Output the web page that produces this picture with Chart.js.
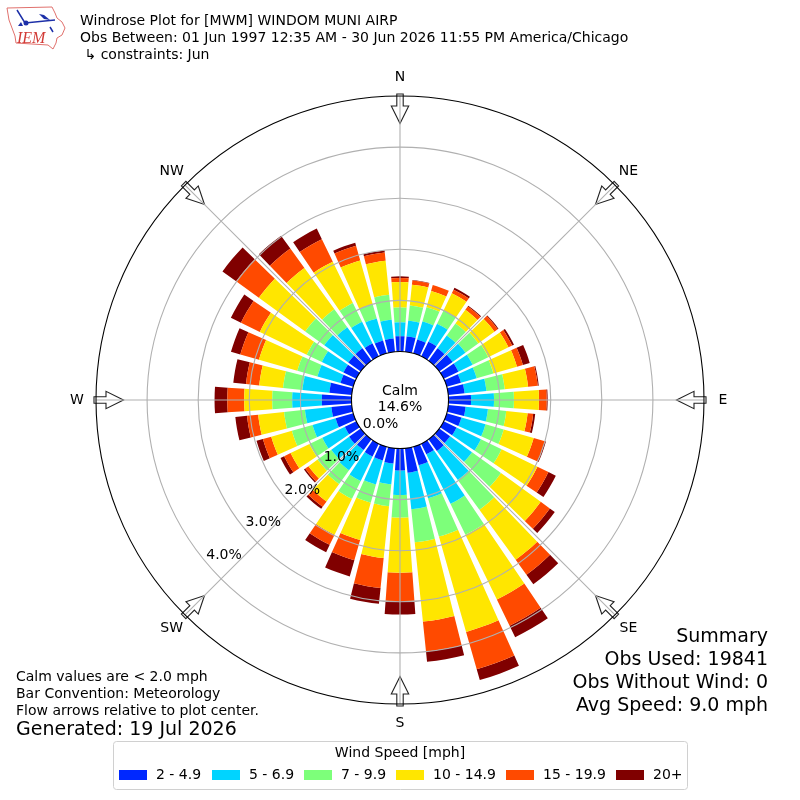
<!DOCTYPE html>
<html>
<head>
<meta charset="utf-8">
<title>Windrose Plot</title>
<style>
  html, body { margin: 0; padding: 0; background: #fff; }
  #wrap { width: 800px; height: 800px; }
</style>
<script src="https://cdn.jsdelivr.net/npm/chart.js@4/dist/chart.umd.min.js"></script>
</head>
<body>
<div id="wrap"><canvas id="rose" width="800" height="800"></canvas></div>
<script>
// direction bins, clockwise from north
const directions = ['0','10','20','30','40','50','60','70','80','90','100','110','120','130','140','150','160','170',
                    '180','190','200','210','220','230','240','250','260','270','280','290','300','310','320','330','340','350'];

// percent of observations per direction for each speed class
const mph2to5   = [.30,.30,.28,.32,.30,.32,.32,.29,.32,.44,.34,.30,.28,.26,.28,.23,.38,.48,.43,.30,.28,.28,.26,.28,.25,.36,.40,.58,.44,.26,.28,.30,.30,.28,.26,.26];
const mph5to7   = [.27,.31,.37,.39,.31,.31,.31,.32,.43,.45,.44,.49,.53,.53,.70,1.08,.67,.72,.48,.41,.49,.53,.49,.43,.49,.47,.52,.58,.53,.47,.47,.58,.51,.47,.45,.37];
const mph7to10  = [.29,.30,.29,.29,.29,.31,.34,.34,.36,.39,.36,.37,.45,.70,.72,.67,.78,.65,.44,.43,.37,.39,.33,.33,.28,.42,.41,.39,.38,.41,.33,.46,.43,.41,.29,.49];
const mph10to15 = [.50,.41,.33,.37,.33,.39,.44,.48,.46,.49,.42,.61,.78,.96,1.21,1.41,1.94,1.56,1.08,1.02,.76,.78,.42,.22,.41,.42,.51,.55,.47,.78,1.02,1.12,1.00,.90,.89,.67];
const mph15to20 = [.08,.08,.12,.08,.08,.08,.08,.12,.19,.15,.11,.23,.24,.22,.36,.57,.76,.59,.56,.59,.41,.22,.13,.08,.14,.17,.22,.33,.26,.38,.41,.55,.47,.49,.30,.16];
const mph20plus = [.03,.01,0,.04,.02,.02,.04,.14,.02,.02,.04,.02,.16,.12,.23,.25,.22,.20,.26,.31,.33,.16,.05,.03,.08,.13,.23,.25,.25,.19,.22,.33,.31,.23,.06,.04];

const speedBins = ['2 - 4.9', '5 - 6.9', '7 - 9.9', '10 - 14.9', '15 - 19.9', '20+'];
const speedColors = ['#0028ff', '#00d4ff', '#7dff7a', '#ffe600', '#ff4a00', '#800000'];
const binValues = [mph2to5, mph5to7, mph7to10, mph10to15, mph15to20, mph20plus];

const compass = [['N',0], ['NE',45], ['E',90], ['SE',135], ['S',180], ['SW',225], ['W',270], ['NW',315]];
const rTicks = [0, 1, 2, 3, 4];
const calmPct = '14.6%';

const titleLines = ['Windrose Plot for [MWM] WINDOM MUNI AIRP',
                    'Obs Between: 01 Jun 1997 12:35 AM - 30 Jun 2026 11:55 PM America/Chicago',
                    ' \u21b3 constraints: Jun'];
const noteLines = ['Calm values are < 2.0 mph', 'Bar Convention: Meteorology', 'Flow arrows relative to plot center.'];
const generated = 'Generated: 19 Jul 2026';
const summaryLines = ['Summary', 'Obs Used: 19841', 'Obs Without Wind: 0', 'Avg Speed: 9.0 mph'];

const FONT = '"DejaVu Sans"';
const BAR_WIDTH = 8.2 * Math.PI / 180;
const D2R = Math.PI / 180;

// stacked wedges: polarArea has no stacking so each arc starts where the previous class ended
class WindRoseController extends Chart.PolarAreaController {
  updateElements(arcs, start, count, mode) {
    const scale = this._cachedMeta.rScale;
    const sets = this.chart.data.datasets;
    for (let i = start; i < start + count; i++) {
      let below = 0;
      for (let d = 0; d < this.index; d++) below += sets[d].data[i];
      const mid = scale.getIndexAngle(i) - Math.PI / 2;
      this.updateElement(arcs[i], i, {
        x: scale.xCenter,
        y: scale.yCenter,
        startAngle: mid - BAR_WIDTH / 2,
        endAngle: mid + BAR_WIDTH / 2,
        circumference: BAR_WIDTH,
        innerRadius: scale.getDistanceFromCenterForValue(below),
        outerRadius: scale.getDistanceFromCenterForValue(below + sets[this.index].data[i]),
        options: this.resolveDataElementOptions(i, mode)
      }, mode);
    }
  }
}
WindRoseController.id = 'windRose';
Chart.register(WindRoseController);

function text(ctx, str, x, y, size, align, base) {
  ctx.font = size + 'px ' + FONT;
  ctx.textAlign = align || 'left';
  ctx.textBaseline = base || 'middle';
  ctx.fillStyle = '#000';
  ctx.fillText(str, x, y);
}

function drawLogo(ctx) {
  ctx.save();
  ctx.strokeStyle = '#e0706c';
  ctx.lineWidth = 1;
  ctx.beginPath();
  [[7,8],[52,7],[55,13],[57,18],[62,22],[65,28],[62,35],[57,38],[56,43],[53,49],[48,45],[16,43],[15,36],[12,28],[9,20]]
    .forEach((p, i) => i ? ctx.lineTo(p[0], p[1]) : ctx.moveTo(p[0], p[1]));
  ctx.closePath();
  ctx.stroke();
  ctx.strokeStyle = '#1c2fa8';
  ctx.fillStyle = '#1c2fa8';
  ctx.lineWidth = 1.5;
  ctx.beginPath();
  ctx.moveTo(17, 10); ctx.lineTo(25, 23); ctx.lineTo(55, 20);
  ctx.moveTo(50, 27); ctx.lineTo(53, 32);
  ctx.stroke();
  ctx.beginPath(); ctx.arc(26, 23, 2.5, 0, 7); ctx.fill();
  ctx.beginPath(); ctx.moveTo(39, 14); ctx.lineTo(44, 15); ctx.lineTo(50, 20); ctx.lineTo(44, 19); ctx.fill();
  ctx.beginPath(); ctx.moveTo(21, 22); ctx.lineTo(23, 26); ctx.lineTo(18, 26); ctx.fill();
  ctx.fillStyle = '#d23b36';
  ctx.font = 'italic 16px "Liberation Serif"';
  ctx.textAlign = 'left';
  ctx.textBaseline = 'alphabetic';
  ctx.fillText('IEM', 17, 43);
  ctx.restore();
}

function drawArrow(ctx, scale, angle) {
  // corners given as [radius, sideways offset] along the compass direction
  const a = angle * D2R - Math.PI / 2;
  const ux = Math.cos(a), uy = Math.sin(a);
  const pts = [[306,-3.2],[294,-3.2],[294,-8.7],[276.5,0],[294,8.7],[294,3.2],[306,3.2]];
  ctx.beginPath();
  pts.forEach((p, i) => {
    const x = scale.xCenter + ux * p[0] - uy * p[1];
    const y = scale.yCenter + uy * p[0] + ux * p[1];
    i ? ctx.lineTo(x, y) : ctx.moveTo(x, y);
  });
  ctx.closePath();
  ctx.fillStyle = '#fff';
  ctx.fill();
  ctx.strokeStyle = '#222';
  ctx.lineWidth = 1.1;
  ctx.stroke();
}

function drawLegend(ctx) {
  ctx.save();
  ctx.beginPath();
  ctx.roundRect(113.5, 741.5, 574, 48, 3);
  ctx.fillStyle = '#fff';
  ctx.fill();
  ctx.strokeStyle = '#d0d0d0';
  ctx.lineWidth = 1;
  ctx.stroke();
  ctx.restore();
  text(ctx, 'Wind Speed [mph]', 400, 753, 14, 'center');
  const swatchX = [119, 212, 304, 396, 506, 616];
  speedBins.forEach((lab, i) => {
    ctx.fillStyle = speedColors[i];
    ctx.fillRect(swatchX[i], 770, 28, 10);
    text(ctx, lab, swatchX[i] + 37, 775, 14);
  });
}

const overlay = {
  id: 'overlay',
  afterDatasetsDraw(chart) {
    const ctx = chart.ctx;
    const scale = chart.scales.r;
    ctx.save();
    // flow arrows first, the spokes run over them
    compass.forEach(c => drawArrow(ctx, scale, c[1]));
    ctx.strokeStyle = '#b0b0b0';
    ctx.lineWidth = 1.1;
    const r0 = scale.getDistanceFromCenterForValue(0);
    const r1 = scale.getDistanceFromCenterForValue(5);
    compass.forEach(c => {
      const p0 = scale.getPointPosition(0, r0, c[1] * D2R);
      const p1 = scale.getPointPosition(0, r1, c[1] * D2R);
      ctx.beginPath();
      ctx.moveTo(p0.x, p0.y);
      ctx.lineTo(p1.x, p1.y);
      ctx.stroke();
    });
    // compass names
    compass.forEach(c => {
      const p = scale.getPointPosition(0, 323, c[1] * D2R);
      text(ctx, c[0], p.x, p.y, 14, 'center');
    });
    // percent labels sit along the 230 degree radial
    rTicks.forEach(v => {
      const p = scale.getPointPosition(0, scale.getDistanceFromCenterForValue(v), 230 * D2R);
      text(ctx, v.toFixed(1) + '%', p.x, p.y, 14, 'left', 'bottom');
    });
    text(ctx, 'Calm', 400, 391, 14, 'center');
    text(ctx, calmPct, 400, 407, 14, 'center');

    titleLines.forEach((t, i) => text(ctx, t, 80, 21 + i * 17, 14));
    noteLines.forEach((t, i) => text(ctx, t, 16, 677 + i * 17, 14));
    text(ctx, generated, 16, 730.5, 19);
    summaryLines.forEach((t, i) => text(ctx, t, 768, 637.5 + i * 23, 19, 'right'));
    drawLegend(ctx);
    drawLogo(ctx);
    ctx.restore();
  }
};

new Chart(document.getElementById('rose').getContext('2d'), {
  type: 'windRose',
  data: {
    labels: directions,
    datasets: binValues.map((vals, i) => ({
      label: speedBins[i],
      data: vals,
      backgroundColor: speedColors[i],
      borderWidth: 0
    }))
  },
  options: {
    responsive: false,
    animation: false,
    layout: { padding: 96 },
    plugins: { legend: { display: false }, tooltip: { enabled: false } },
    scales: {
      r: {
        type: 'radialLinear',
        min: -0.95,
        max: 5,
        ticks: { display: false, stepSize: 1 },
        pointLabels: { display: false },
        angleLines: { display: false },
        grid: {
          circular: true,
          z: 1,
          lineWidth: 1.1,
          color: ctx => (ctx.tick.value === 5 || ctx.tick.value === 0) ? '#000' : '#b0b0b0'
        }
      }
    }
  },
  plugins: [overlay]
});
</script>
</body>
</html>
